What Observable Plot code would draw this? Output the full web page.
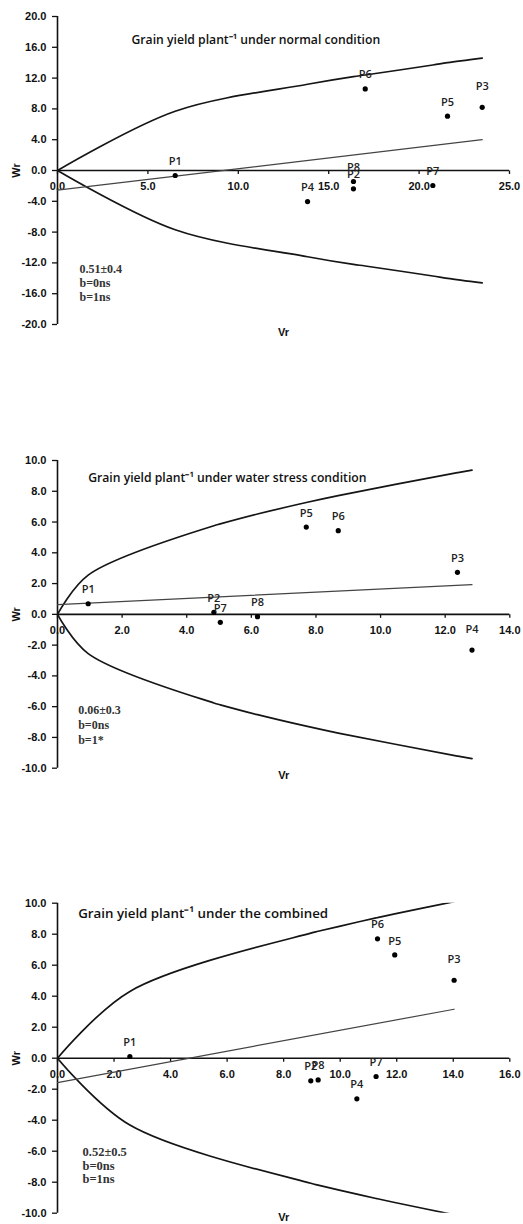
<!DOCTYPE html>
<html><head><meta charset="utf-8">
<script src="https://cdn.jsdelivr.net/npm/d3@7"></script>
<script src="https://cdn.jsdelivr.net/npm/@observablehq/plot@0.6"></script>
<style>
html,body{margin:0;padding:0;background:#fff;}
#wrap{position:relative;width:523px;height:1224px;overflow:hidden;background:#fff;}
#wrap > svg{position:absolute;left:0;}
</style></head><body><div id="wrap"></div>
<script>
// ---------- data ----------
const parents = ["P1","P2","P3","P4","P5","P6","P7","P8"];

// Panel 1: normal condition
const titleNormal = "Grain yield plant\u207B\u00B9 under normal condition";
const vrNormal = [6.51, 16.37, 23.49, 13.83, 21.57, 17.02, 20.76, 16.37];
const wrNormal = [-0.65, -2.38, 8.20, -4.03, 7.05, 10.60, -1.95, -1.43];
const limitVrNormal = [0, 6.51, 13.83, 16.37, 17.02, 20.76, 21.57, 23.49];
const upperWrNormal = [0, 7.7, 11.2, 12.2, 12.4, 13.7, 14.0, 14.6];
const lowerWrNormal = [0, -7.7, -11.2, -12.2, -12.4, -13.7, -14.0, -14.6];
const regVrNormal = [0, 23.49];
const regWrNormal = [-2.55, 4.0];
const notesNormal = ["0.51\u00B10.4", "b=0ns", "b=1ns"];
const xTicksNormal = [0, 5, 10, 15, 20, 25];
const yTicksNormal = [20, 16, 12, 8, 4, 0, -4, -8, -12, -16, -20];

// Panel 2: water stress condition
const titleStress = "Grain yield plant\u207B\u00B9 under water stress condition";
const vrStress = [0.95, 4.84, 12.38, 12.83, 7.70, 8.69, 5.04, 6.19];
const wrStress = [0.69, 0.13, 2.73, -2.32, 5.67, 5.44, -0.52, -0.15];
const limitVrStress = [0, 0.95, 4.84, 5.04, 6.19, 7.70, 8.69, 12.38, 12.83];
const upperWrStress = [0, 2.55, 5.76, 5.88, 6.52, 7.27, 7.72, 9.21, 9.38];
const lowerWrStress = [0, -2.55, -5.76, -5.88, -6.52, -7.27, -7.72, -9.21, -9.38];
const regVrStress = [0, 12.83];
const regWrStress = [0.63, 1.93];
const notesStress = ["0.06\u00B10.3", "b=0ns", "b=1*"];
const xTicksStress = [0, 2, 4, 6, 8, 10, 12, 14];
const yTicksStress = [10, 8, 6, 4, 2, 0, -2, -4, -6, -8, -10];

// Panel 3: combined
const titleCombined = "Grain yield plant\u207B\u00B9 under the combined";
const vrCombined = [2.56, 8.96, 14.03, 10.59, 11.93, 11.32, 11.27, 9.22];
const wrCombined = [0.11, -1.46, 5.03, -2.62, 6.66, 7.70, -1.18, -1.40];
const limitVrCombined = [0, 2.56, 8.96, 9.22, 10.59, 11.27, 11.32, 11.93, 14.03];
const upperWrCombined = [0, 4.31, 8.07, 8.19, 8.77, 9.05, 9.07, 9.31, 10.1];
const lowerWrCombined = [0, -4.31, -8.07, -8.19, -8.77, -9.05, -9.07, -9.31, -10.1];
const regVrCombined = [0, 14.03];
const regWrCombined = [-1.57, 3.16];
const notesCombined = ["0.52\u00B10.5", "b=0ns", "b=1ns"];
const xTicksCombined = [0, 2, 4, 6, 8, 10, 12, 14, 16];
const yTicksCombined = [10, 8, 6, 4, 2, 0, -2, -4, -6, -8, -10];

// ---------- drawing ----------
const SANS = "'Liberation Sans', Arial, sans-serif";
const LABEL = "'Open Sans', 'Liberation Sans', sans-serif";
const SERIF = "'Liberation Serif', 'Times New Roman', serif";
const tickDown = {draw(ctx) { ctx.moveTo(0, 0); ctx.lineTo(0, 3.5); }};

function panel(c) {
  const pts = parents.map((p, i) => ({p, vr: c.vr[i], wr: c.wr[i]}));
  const up = c.limVr.map((v, i) => ({vr: v, wr: c.up[i]}));
  const lo = c.limVr.map((v, i) => ({vr: v, wr: c.lo[i]}));
  const reg = c.regVr.map((v, i) => ({vr: v, wr: c.regWr[i]}));
  const lifted = pts.filter(d => c.raised.includes(d.p));
  const normal = pts.filter(d => !c.raised.includes(d.p));
  const svg = Plot.plot({
    width: 523, height: c.height,
    marginTop: c.mt, marginBottom: c.mb, marginLeft: 57, marginRight: c.mr,
    x: {domain: c.xDomain, axis: null},
    y: {domain: c.yDomain, axis: null},
    style: {background: "white", fontFamily: SANS, overflow: "visible", color: "#111"},
    marks: [
      Plot.axisY(c.yTicks, {anchor: "left", label: null, tickSize: 5, tickPadding: 6, tickFormat: d => d.toFixed(1),
        fontSize: 11, fontWeight: "bold", fontFamily: SANS, fill: "#111", stroke: "#111", strokeWidth: 1.3}),
      Plot.ruleX([0], {stroke: "#111", strokeWidth: 1.6}),
      Plot.ruleY([0], {stroke: "#111", strokeWidth: 1.6}),
      Plot.dot(c.xTicks, {x: d => d, y: () => 0, symbol: tickDown, fill: "none", stroke: "#111", strokeWidth: 1.3}),
      Plot.text(c.xTicks, {x: d => d, y: () => 0, text: d => d.toFixed(1), dy: 16,
        fontSize: 11, fontWeight: "bold", fontFamily: SANS, fill: "#111"}),
      Plot.line(up, {x: "vr", y: "wr", curve: "catmull-rom", stroke: "#151515", strokeWidth: 1.7, clip: true}),
      Plot.line(lo, {x: "vr", y: "wr", curve: "catmull-rom", stroke: "#151515", strokeWidth: 1.7, clip: true}),
      Plot.line(reg, {x: "vr", y: "wr", stroke: "#444", strokeWidth: 1.2}),
      Plot.dot(pts, {x: "vr", y: "wr", r: 2.6, fill: "#000"}),
      Plot.text(normal, {x: "vr", y: "wr", text: "p", dy: -14, fontSize: 11, fontWeight: 600, fontFamily: LABEL, fill: "#222"}),
      Plot.text(lifted, {x: "vr", y: "wr", text: "p", dy: -21, fontSize: 11, fontWeight: 600, fontFamily: LABEL, fill: "#222"}),
      Plot.text([c.title], {frameAnchor: "top-left", textAnchor: "start", dx: c.titleDx, dy: c.titleDy,
        fontSize: c.titleSize, fontWeight: 600, fontFamily: LABEL, fill: "#111"}),
      Plot.text([c.notes.join("\n")], {frameAnchor: "top-left", textAnchor: "start", lineAnchor: "top",
        dx: c.noteDx, dy: c.noteDy, lineHeight: c.noteLH, fontSize: c.noteSize, fontWeight: "bold", fontFamily: SERIF, fill: "#333"}),
      Plot.text(["Wr"], {x: () => 0, y: () => 0, dx: -41, rotate: -90, fontSize: 11, fontWeight: "bold", fontFamily: SANS, fill: "#111"}),
      Plot.text(["Vr"], {frameAnchor: "bottom", dy: c.vrDy, fontSize: 11, fontWeight: "bold", fontFamily: SANS, fill: "#111"})
    ]
  });
  svg.style.top = c.top + "px";
  document.getElementById("wrap").appendChild(svg);
}

panel({top: 0, height: 345, mt: 16, mb: 21, mr: 14, xDomain: [0, 25], yDomain: [-20, 20],
  vr: vrNormal, wr: wrNormal, limVr: limitVrNormal, up: upperWrNormal, lo: lowerWrNormal,
  regVr: regVrNormal, regWr: regWrNormal, xTicks: xTicksNormal, yTicks: yTicksNormal,
  raised: ["P3"], title: titleNormal, titleDx: 74, titleDy: 19, titleSize: 12.2,
  notes: notesNormal, noteDx: 22, noteDy: 246.4, noteLH: 1.17, noteSize: 12, vrDy: 11});

panel({top: 440, height: 350, mt: 20, mb: 22.3, mr: 13.7, xDomain: [0, 14], yDomain: [-10, 10],
  vr: vrStress, wr: wrStress, limVr: limitVrStress, up: upperWrStress, lo: lowerWrStress,
  regVr: regVrStress, regWr: regWrStress, xTicks: xTicksStress, yTicks: yTicksStress,
  raised: ["P4"], title: titleStress, titleDx: 30.7, titleDy: 13.3, titleSize: 12.2,
  notes: notesStress, noteDx: 20.7, noteDy: 242.4, noteLH: 1.25, noteSize: 12, vrDy: 10.6});

panel({top: 880, height: 344, mt: 22.7, mb: 11.3, mr: 13.7, xDomain: [0, 16], yDomain: [-10, 10],
  vr: vrCombined, wr: wrCombined, limVr: limitVrCombined, up: upperWrCombined, lo: lowerWrCombined,
  regVr: regVrCombined, regWr: regWrCombined, xTicks: xTicksCombined, yTicks: yTicksCombined,
  raised: ["P3"], title: titleCombined, titleDx: 20.7, titleDy: 5.6, titleSize: 13.3,
  notes: notesCombined, noteDx: 25, noteDy: 243, noteLH: 1.1, noteSize: 12.5, vrDy: 7.3});
</script></body></html>
